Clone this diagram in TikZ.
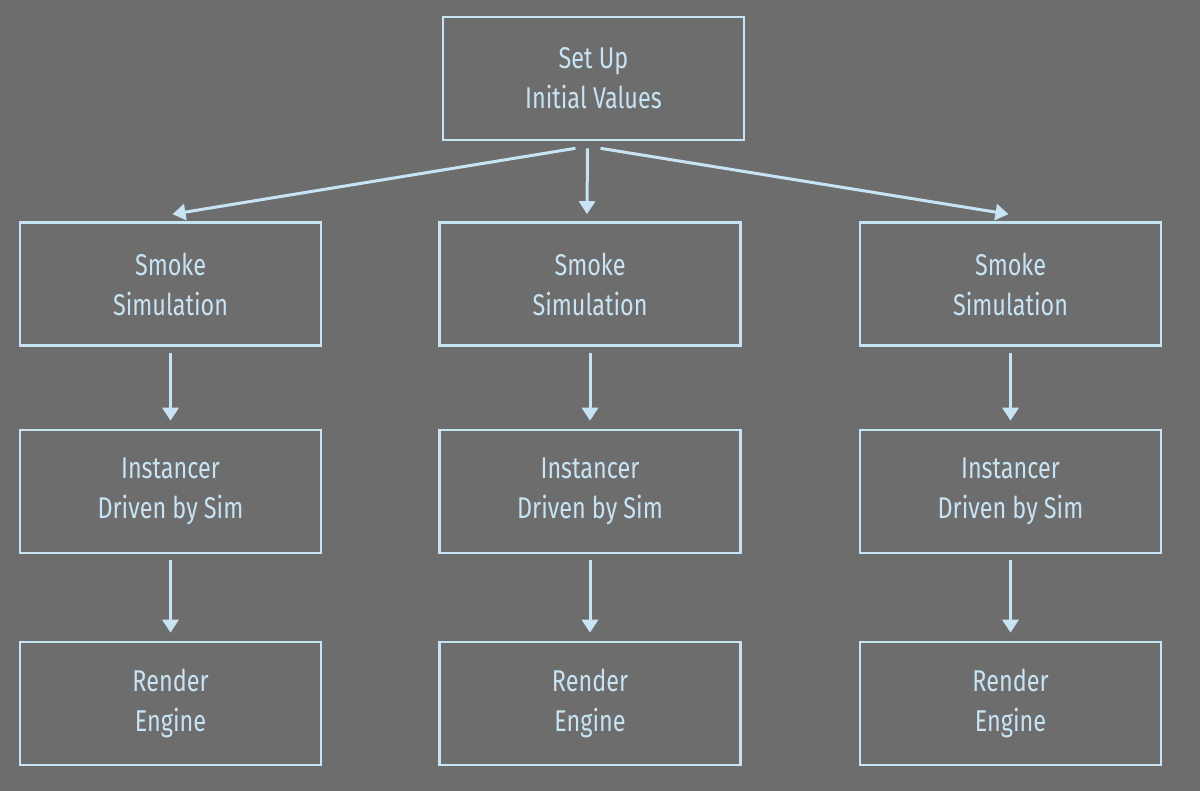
\documentclass[tikz,border=0pt]{standalone}
\usepackage{fontspec}
\setmainfont{Fira Sans}[FakeStretch=0.78]
\usetikzlibrary{arrows.meta}
\definecolor{bg}{HTML}{6D6D6D}
\definecolor{chalk}{HTML}{C8E4F4}
\begin{document}
\begin{tikzpicture}[x=1pt,y=-1pt,
  chalkbox/.style={draw=chalk,line width=2.6pt,minimum width=301pt,minimum height=123pt,
    inner sep=0pt,align=center,text=chalk,font=\fontsize{30}{40}\selectfont},
  flow/.style={draw=chalk,line width=3pt,-{Triangle[width=16pt,length=13pt]}}]
\fill[bg] (0,0) rectangle (1200,791);
\useasboundingbox (0,0) rectangle (1200,791);
\node[chalkbox] (top) at (593.5,78.5) {Set Up\\Initial Values};
\foreach \c/\x in {a/170.5,b/590,c/1010.5}{
  \node[chalkbox] (s\c) at (\x,284) {Smoke\\Simulation};
  \node[chalkbox] (i\c) at (\x,491.5) {Instancer\\Driven by Sim};
  \node[chalkbox] (r\c) at (\x,703.5) {Render\\Engine};
  \draw[flow] ([yshift=-6pt]s\c.south) -- ([yshift=8pt]i\c.north);
  \draw[flow] ([yshift=-6pt]i\c.south) -- ([yshift=8pt]r\c.north);
}
\draw[flow] ([xshift=-18pt,yshift=-7pt]top.south) -- ([xshift=2pt,yshift=7pt]sa.north);
\draw[flow] ([xshift=-6pt,yshift=-7pt]top.south) -- ([xshift=-3pt,yshift=7pt]sb.north);
\draw[flow] ([xshift=7pt,yshift=-7pt]top.south) -- ([xshift=-2pt,yshift=7pt]sc.north);
\end{tikzpicture}
\end{document}
